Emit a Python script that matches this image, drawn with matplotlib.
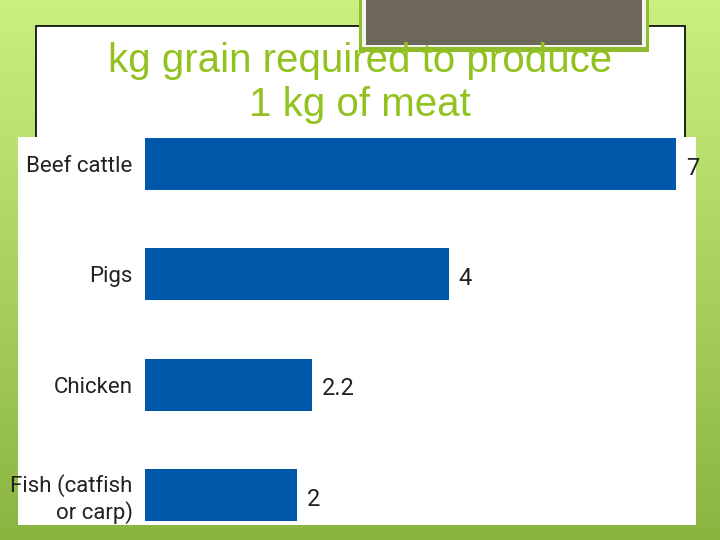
import numpy as np
import matplotlib
matplotlib.use('Agg')
import matplotlib.pyplot as plt
from matplotlib.patches import Rectangle

categories = ['Beef cattle', 'Pigs', 'Chicken', 'Fish (catfish\nor carp)']
values = [7, 4, 2.2, 2]
value_labels = ['7', '4', '2.2', '2']
title = 'kg grain required to produce\n1 kg of meat'

LABEL_FONT = ['Roboto', 'DejaVu Sans']
TITLE_FONT = ['Liberation Sans', 'DejaVu Sans']
BAR_COLOR = '#0058aa'

fig = plt.figure(figsize=(7.2, 5.4), dpi=100)

# slide background in pixel coordinates
bg = fig.add_axes([0, 0, 1, 1])
bg.set_xlim(0, 720); bg.set_ylim(540, 0); bg.axis('off')
top = np.array([0.80, 0.94, 0.50]); bot = np.array([0.54, 0.71, 0.25])
t = np.linspace(0, 1, 200)[:, None, None]
grad = top * (1 - t) + bot * t
grad = np.repeat(grad, 4, axis=1)
bg.imshow(grad, extent=(0, 720, 540, 0), aspect='auto', zorder=0)

# title box
bg.add_patch(Rectangle((36, 26), 649, 130, fc='white', ec='black', lw=1.2, zorder=1))
# gray decoration box
bg.add_patch(Rectangle((359, -5), 290, 57, fc='#8fbc2a', ec='none', zorder=2))
bg.add_patch(Rectangle((362, -5), 284, 52, fc='#f4f4ee', ec='none', zorder=2))
bg.add_patch(Rectangle((366, -5), 276, 50, fc='#6e675b', ec='none', zorder=2))
bg.text(360, 83, title, ha='center', va='center', fontsize=29, color='#92c21f',
        family=TITLE_FONT, linespacing=1.22, zorder=3)
# chart panel
bg.add_patch(Rectangle((18, 137), 678, 388, fc='white', ec='none', zorder=4))

# bar chart
ax = fig.add_axes([145 / 720, 1 - 530 / 540, 555 / 720, 400 / 540])
ax.patch.set_alpha(0)
y = np.arange(len(categories))
ax.barh(y, values, height=0.473, color=BAR_COLOR)
ax.set_ylim(3.318, -0.309)
ax.set_xlim(0, 555 / 75.9)
for yi, v, lab in zip(y, values, value_labels):
    ax.annotate(lab, (v, yi), xytext=(7, -3), textcoords='offset points',
                ha='left', va='center', fontsize=17, color='#222222',
                family=LABEL_FONT, annotation_clip=False)
ax.set_yticks(y)
ax.set_yticklabels(categories, fontsize=16, color='#222222', family=LABEL_FONT,
                   linespacing=1.2)
ax.tick_params(axis='y', length=0, pad=9)
ax.set_xticks([])
for s in ax.spines.values():
    s.set_visible(False)

fig.savefig('out.png', dpi=100)
